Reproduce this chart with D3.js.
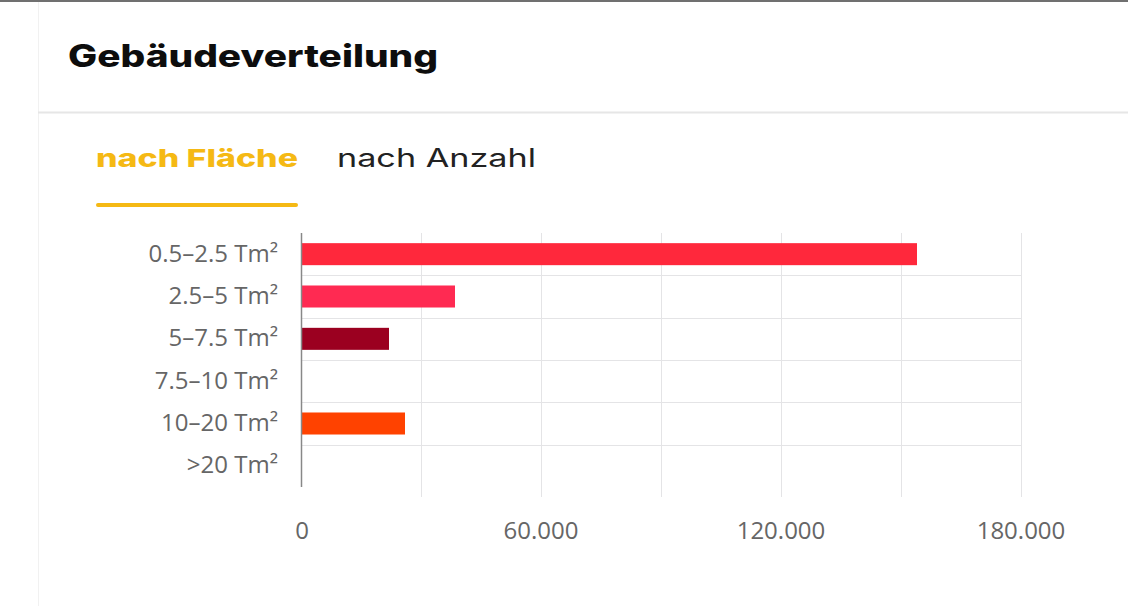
<!DOCTYPE html>
<html lang="de">
<head>
    <meta charset="UTF-8">
    <title>Gebäudeverteilung</title>

    <style>

        body {
            margin: 0;
            background: #fff;
        }

        .grid line {
            stroke: #e4e4e6;
            stroke-width: 1px;
        }

        .tick-label {
            font-family: 'Open Sans', sans-serif;
            fill: #666;
        }

    </style>

</head>
<body>

<script src="https://cdnjs.cloudflare.com/ajax/libs/d3/7.8.5/d3.min.js"></script>
<script>

    const width = 1128;
    const height = 606;

    const categories = ['0.5–2.5 Tm²', '2.5–5 Tm²', '5–7.5 Tm²', '7.5–10 Tm²', '10–20 Tm²', '>20 Tm²'];
    const values = [154000, 38500, 22000, 0, 26000, 0];
    const colors = ['#ff283c', '#ff2a52', '#9b0020', '#ff3d2a', '#ff4200', '#ff4200'];
    const gridTicks = [0, 30000, 60000, 90000, 120000, 150000, 180000];
    const labelTicks = [0, 60000, 120000, 180000];
    const tabs = ['nach Fläche', 'nach Anzahl'];

    const de = d3.formatLocale({decimal: ',', thousands: '.', grouping: [3], currency: ['', ' €']});
    const fmt = de.format(',');

    let svg = d3.select('body').append('svg')
        .attr('width', width)
        .attr('height', height);

    // card frame
    svg.append('rect')
        .attr('x', 0).attr('y', 0)
        .attr('width', width).attr('height', 2)
        .attr('fill', '#707070');
    svg.append('line')
        .attr('x1', 38.5).attr('x2', 38.5)
        .attr('y1', 2).attr('y2', height)
        .attr('stroke', '#f1f1f1');
    svg.append('line')
        .attr('x1', 38).attr('x2', width)
        .attr('y1', 112.5).attr('y2', 112.5)
        .attr('stroke', '#e6e6e6')
        .attr('stroke-width', 2);

    svg.append('text')
        .attr('x', 68).attr('y', 67)
        .attr('font-family', 'Inter, sans-serif')
        .attr('font-weight', 800)
        .attr('font-size', 31)
        .attr('textLength', 370)
        .attr('lengthAdjust', 'spacingAndGlyphs')
        .attr('fill', '#0d0d0d')
        .text('Gebäudeverteilung');

    // tabs
    svg.append('text')
        .attr('x', 96).attr('y', 167)
        .attr('font-family', 'Inter, sans-serif')
        .attr('font-weight', 800)
        .attr('font-size', 25)
        .attr('textLength', 202)
        .attr('lengthAdjust', 'spacingAndGlyphs')
        .attr('fill', '#f5b914')
        .text(tabs[0]);
    svg.append('text')
        .attr('x', 337).attr('y', 167)
        .attr('font-family', 'Inter, sans-serif')
        .attr('font-weight', 400)
        .attr('font-size', 25)
        .attr('textLength', 199)
        .attr('lengthAdjust', 'spacingAndGlyphs')
        .attr('fill', '#222')
        .text(tabs[1]);
    svg.append('rect')
        .attr('x', 96).attr('y', 203)
        .attr('width', 202).attr('height', 4)
        .attr('rx', 2)
        .attr('fill', '#f5b914');

    // chart
    const plotTop = 233, plotBottom = 487;
    let x = d3.scaleLinear().domain([0, 180000]).range([301, 1021]);
    let y = d3.scaleBand().domain(categories).range([plotTop, plotBottom]).paddingInner(0.48).paddingOuter(0.24);

    let grid = svg.append('g').attr('class', 'grid');
    grid.selectAll('line.v')
        .data(gridTicks.slice(1))
        .enter().append('line')
        .attr('class', 'v')
        .attr('x1', d => Math.round(x(d)) + 0.5)
        .attr('x2', d => Math.round(x(d)) + 0.5)
        .attr('y1', plotTop)
        .attr('y2', plotBottom + 10);
    let bands = categories.slice(1).map(c => y(c) - y.step() * y.paddingInner() / 2);
    grid.selectAll('line.h')
        .data(bands)
        .enter().append('line')
        .attr('class', 'h')
        .attr('x1', x(0))
        .attr('x2', x(180000))
        .attr('y1', d => Math.round(d) + 0.5)
        .attr('y2', d => Math.round(d) + 0.5);

    svg.append('g').selectAll('rect')
        .data(values)
        .enter().append('rect')
        .attr('x', x(0))
        .attr('y', (d, i) => y(categories[i]))
        .attr('width', d => x(d) - x(0))
        .attr('height', y.bandwidth())
        .attr('fill', (d, i) => colors[i]);

    svg.append('line')
        .attr('x1', x(0) + 0.5).attr('x2', x(0) + 0.5)
        .attr('y1', plotTop).attr('y2', plotBottom)
        .attr('stroke', '#888')
        .attr('stroke-width', 1.5);

    svg.append('g').selectAll('text')
        .data(categories)
        .enter().append('text')
        .attr('class', 'tick-label')
        .attr('x', 278)
        .attr('y', d => y(d) + y.bandwidth() / 2 - 1)
        .attr('dy', '0.35em')
        .attr('text-anchor', 'end')
        .attr('font-size', 24)
        .text(d => d);

    svg.append('g').selectAll('text')
        .data(labelTicks)
        .enter().append('text')
        .attr('class', 'tick-label')
        .attr('x', d => x(d) + (d === 0 ? 1 : 0))
        .attr('y', 539)
        .attr('text-anchor', 'middle')
        .attr('font-size', 24)
        .text(d => fmt(d));

</script>

</body>
</html>
